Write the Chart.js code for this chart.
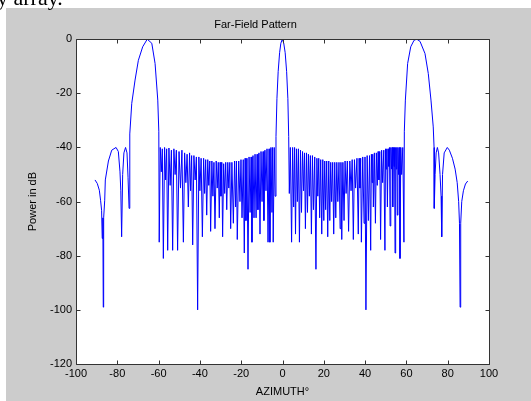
<!DOCTYPE html>
<html>
<head>
<meta charset="utf-8">
<script src="https://cdn.jsdelivr.net/npm/chart.js@4.4.1/dist/chart.umd.min.js"></script>
<style>
  html, body { margin: 0; padding: 0; background: #fff; overflow: hidden; }
  #wrap { position: relative; width: 531px; height: 401px; }
  #chart { position: absolute; left: 0; top: 0; }
  #doc { position: absolute; left: -3px; top: -13px; font: 22px/22px "Liberation Serif", "Times New Roman", serif; color: #000; white-space: nowrap; z-index: 2; }
</style>
</head>
<body>
<div id="wrap">
  <canvas id="chart" width="531" height="401"></canvas>
  <div id="doc">y array.</div>
</div>
<script>
// values (azimuth in degrees, power in dB)
const edgeLeftAz = [-90.8, -89.7, -88.7, -88.1, -87.6, -87.3, -87.0, -86.8, -86.6, -86.1,
    -85.8, -84.3, -82.7, -80.6, -79.5, -78.7, -78.3, -77.9, -77.4, -76.8,
    -76.0, -75.3, -74.8, -74.3];
const edgeLeftDb = [-52, -53.3, -55.8, -59.5, -63.2, -73.6, -66, -99, -66, -59.5,
    -52, -45, -41, -40, -41.5, -49, -56, -73, -50, -42,
    -40, -42, -51, -62.5];

const lobeLeftAz = [-74.0, -73.9, -73.0, -71.4, -69.8, -67.7, -65.5, -63.3, -61.7, -60.4, -59.9, -59.7];
const lobeLeftDb = [-40, -35, -23.7, -15.1, -7.8, -2.8, 0, -1.5, -9, -22.5, -34, -75];

const combLeftAz = [-59.2, -58.7, -58.2, -57.7, -57.1, -56.6, -56.1, -55.6, -55.0, -54.4,
    -53.8, -53.2, -52.6, -52.0, -51.4, -50.8, -50.1, -49.4, -48.7, -48.0,
    -47.4, -46.8, -46.2, -45.6, -45.0, -44.5, -44.0, -43.5, -42.9, -42.3,
    -41.7, -41.1, -40.5, -40.0, -39.4, -38.8, -38.2, -37.7, -37.2, -36.7,
    -36.2, -35.7, -35.2, -34.8, -34.2, -33.7, -33.2, -32.7, -32.1, -31.6,
    -31.1, -30.6, -30.2, -29.8, -29.4, -29.0, -28.5, -28.0, -27.5, -27.0,
    -26.5, -26.0, -25.5, -25.1, -24.5, -23.8, -23.2, -22.7, -22.3, -21.9,
    -21.2, -20.6, -20.1, -19.6, -19.0, -18.5, -18.1, -17.7, -17.2, -16.7,
    -16.2, -15.7, -15.2, -14.8, -14.3, -13.8, -13.3, -12.8, -12.3, -11.9,
    -11.4, -10.9, -10.4, -9.9, -9.4, -9.0, -8.5, -8.0, -7.5, -7.0,
    -6.5, -6.1, -5.6, -5.1, -4.8, -4.5, -4.0, -3.6];
const combLeftDb = [-40, -49, -40.5, -81, -40, -52, -40.5, -78, -40.2, -54,
    -41, -78, -40.5, -50, -41, -78, -41.5, -55, -41, -75,
    -42, -53, -42.5, -62, -42, -56, -43, -76, -43, -52,
    -43.5, -100, -43.5, -56, -44, -73, -44, -57, -44.5, -65,
    -44.5, -54, -45, -71, -45, -58, -45.5, -70, -45, -55,
    -45.5, -66, -45.5, -58, -45.5, -73, -46, -57, -45.5, -63,
    -45.5, -55, -45.5, -70, -45.5, -68, -45, -62, -45, -74,
    -45, -60, -44.5, -66, -44.5, -79, -44, -67, -44, -85,
    -43.5, -64, -43.5, -75, -43, -66, -42.5, -66, -42.5, -63,
    -42, -72, -41.5, -60, -41.5, -67, -41, -56, -40.5, -75,
    -40.5, -75, -40, -64, -40, -75, -40, -58];

const beamAz = [-3.15, -2.7, -2.1, -1.4, -0.8, -0.1, 0.6, 1.3, 2.0, 2.6, 3.0];
const beamDb = [-36, -22, -12, -5, -1.5, 0, -1.5, -5, -12, -22, -36];

const combRightAz = [3.3, 3.8, 4.4, 4.9, 5.4, 5.85, 6.3, 6.75, 7.2, 7.7,
    8.2, 8.7, 9.2, 9.7, 10.2, 10.65, 11.1, 11.6, 12.1, 12.55,
    13.0, 13.5, 14.0, 14.5, 15.0, 15.6, 16.2, 16.65, 17.1, 17.55,
    18.0, 18.5, 19.0, 19.5, 20.0, 20.45, 20.9, 21.4, 21.9, 22.4,
    22.9, 23.35, 23.8, 24.3, 24.8, 25.3, 25.8, 26.3, 26.8, 27.35,
    27.9, 28.3, 28.7, 29.25, 29.8, 30.3, 30.8, 31.4, 32.0, 32.6,
    33.2, 33.75, 34.3, 34.85, 35.4, 36.05, 36.7, 37.1, 37.5, 37.85,
    38.2, 38.85, 39.5, 39.95, 40.4, 41.0, 41.6, 42.15, 42.7, 43.05,
    43.4, 43.7, 44.0, 44.5, 45.0, 45.45, 45.9, 46.3, 46.7, 47.1,
    47.5, 48.0, 48.5, 49.05, 49.6, 49.9, 50.2, 50.5, 50.8, 51.15,
    51.5, 51.8, 52.1, 52.45, 52.8, 53.1, 53.4, 53.7, 54.0, 54.25,
    54.5, 54.8, 55.1, 55.35, 55.6, 55.9, 56.2, 56.55, 56.9, 57.3,
    57.7, 58.25, 58.8];
const combRightDb = [-57, -40, -75, -40, -62, -40, -72, -40.5, -60, -40.5,
    -75, -41, -64, -41.5, -56, -42, -70, -42, -64, -42.5,
    -58, -43, -72, -43, -63, -43.5, -85, -44, -58, -44,
    -66, -44.5, -72, -44.5, -67, -45, -63, -45, -73, -45,
    -67, -45.5, -60, -45.5, -72, -45.5, -66, -45.5, -60, -45.5,
    -70, -45.5, -74, -45.5, -67, -45, -57, -45, -71, -45,
    -56, -44.5, -74, -44.5, -55, -44, -72, -44, -55, -44,
    -75, -43.5, -68, -43.5, -100, -43, -67, -43, -78, -42.5,
    -53, -42.5, -62, -42, -68, -42, -54, -41.5, -52, -41.5,
    -74, -41, -53, -41, -78, -40.5, -48, -40.5, -62, -40.5,
    -47, -40, -69, -40, -48, -40, -62, -40, -47, -40,
    -79, -40, -48, -40, -65, -40, -50, -40, -81, -40,
    -50, -40, -75];

const lobeRightAz = [59.0, 59.5, 60.6, 62.1, 63.7, 65.0, 66.6, 69.0, 70.6, 71.9, 73.0, 73.4, 73.5];
const lobeRightDb = [-34, -22.5, -9, -2.8, -0.4, 0, -0.8, -5.3, -12.7, -22.5, -32.4, -40, -62.5];

const edgeRightAz = [73.9, 74.4, 75.0, 75.6, 76.3, 76.8, 77.1, 77.5, 78.3, 79.8,
    80.8, 82.3, 83.6, 84.6, 85.3, 85.7, 86.0, 86.3, 86.8, 87.6,
    88.6, 89.7];
const edgeRightDb = [-50, -42, -40, -42, -50, -58, -73, -50, -42, -40,
    -41, -44, -48, -53, -60, -68, -99, -68, -60, -56,
    -53.5, -52.4];

const xTicks = [-100, -80, -60, -40, -20, 0, 20, 40, 60, 80, 100];
const yTicks = [-120, -100, -80, -60, -40, -20, 0];

const azimuth = [].concat(edgeLeftAz, lobeLeftAz, combLeftAz, beamAz, combRightAz, lobeRightAz, edgeRightAz);
const power = [].concat(edgeLeftDb, lobeLeftDb, combLeftDb, beamDb, combRightDb, lobeRightDb, edgeRightDb);
const points = azimuth.map((a, i) => ({ x: a, y: power[i] }));

const font = { family: '"Liberation Sans", Arial, Helvetica, sans-serif', size: 11, weight: 'normal' };

// grey figure, white axes box, inward ticks on all four sides (matlab look)
const frame = {
    id: 'frame',
    beforeDraw(chart) {
        const { ctx, chartArea: a } = chart;
        ctx.save();
        ctx.fillStyle = '#cccccc';
        ctx.fillRect(6, 8, chart.width - 6, chart.height - 8);
        ctx.fillStyle = '#ffffff';
        ctx.fillRect(a.left, a.top, a.right - a.left, a.bottom - a.top);
        ctx.restore();
    },
    afterDraw(chart) {
        const { ctx, chartArea: a, scales: { x, y } } = chart;
        const l = Math.round(a.left) + 0.5, r = Math.round(a.right) + 0.5;
        const t = Math.round(a.top) + 0.5, b = Math.round(a.bottom) + 0.5;
        ctx.save();
        ctx.strokeStyle = '#333333';
        ctx.lineWidth = 1;
        ctx.beginPath();
        ctx.rect(l, t, r - l, b - t);
        xTicks.forEach(v => {
            const px = Math.round(x.getPixelForValue(v)) + 0.5;
            ctx.moveTo(px, b); ctx.lineTo(px, b - 4);
            ctx.moveTo(px, t); ctx.lineTo(px, t + 4);
        });
        yTicks.forEach(v => {
            const py = Math.round(y.getPixelForValue(v)) + 0.5;
            ctx.moveTo(l, py); ctx.lineTo(l + 4, py);
            ctx.moveTo(r, py); ctx.lineTo(r - 4, py);
        });
        ctx.stroke();
        ctx.restore();
    }
};

new Chart(document.getElementById('chart'), {
    type: 'line',
    data: {
        datasets: [{
            data: points,
            borderColor: '#0000ff',
            borderWidth: 1,
            pointRadius: 0,
            tension: 0,
            fill: false
        }]
    },
    options: {
        responsive: false,
        animation: false,
        devicePixelRatio: 1,
        layout: { padding: { left: 22, top: 8, right: 42, bottom: 0 } },
        plugins: {
            legend: { display: false },
            tooltip: { enabled: false },
            title: {
                display: true,
                text: 'Far-Field Pattern',
                color: '#000',
                font: font,
                padding: { top: 10, bottom: 8 }
            }
        },
        scales: {
            x: {
                type: 'linear',
                min: -100,
                max: 100,
                afterBuildTicks: s => { s.ticks = xTicks.map(v => ({ value: v })); },
                afterFit: s => { s.height = 37; },
                grid: { display: false, drawTicks: false, tickLength: 0 },
                border: { display: false },
                ticks: { color: '#000', font: font, padding: 3, maxRotation: 0, autoSkip: false },
                title: { display: true, text: 'AZIMUTH°', color: '#000', font: font, padding: { top: 0, bottom: 2 } }
            },
            y: {
                type: 'linear',
                min: -120,
                max: 0,
                afterBuildTicks: s => { s.ticks = yTicks.map(v => ({ value: v })); },
                afterFit: s => { s.width = 54; },
                grid: { display: false, drawTicks: false, tickLength: 0 },
                border: { display: false },
                ticks: { color: '#000', font: font, padding: 4, autoSkip: false },
                title: { display: true, text: 'Power in dB', color: '#000', font: font, padding: { top: 4, bottom: 0 } }
            }
        }
    },
    plugins: [frame]
});
</script>
</body>
</html>
